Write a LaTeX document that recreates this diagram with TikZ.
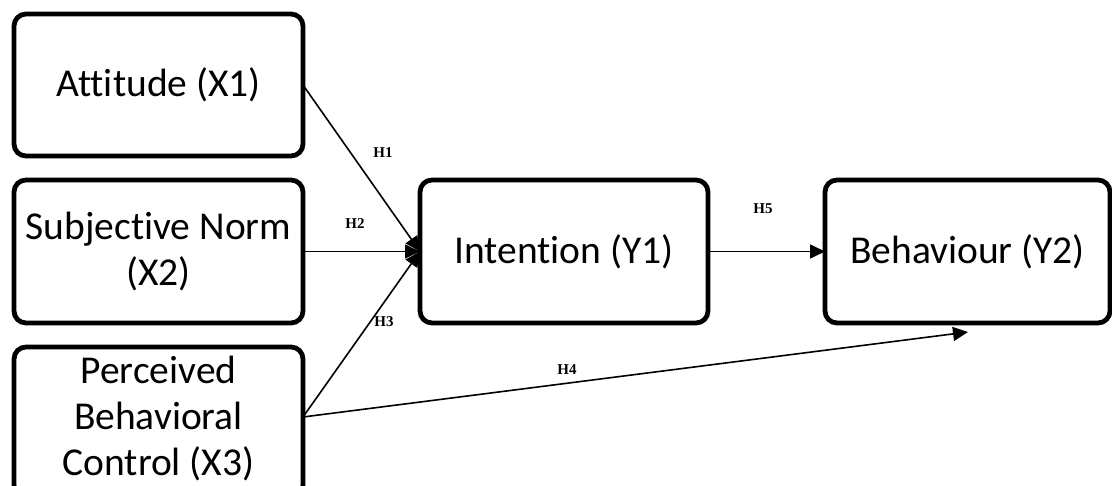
\documentclass[tikz,border=0pt]{standalone}
\usepackage{fontspec}
\setmainfont[Ligatures={NoCommon}]{Carlito}
\newfontfamily\labfont{Liberation Serif}
\usetikzlibrary{arrows.meta}
\begin{document}
\begin{tikzpicture}[x=1pt,y=-1pt,
  varbox/.style={draw, line width=4.8pt, rounded corners=12pt, align=center,
    font=\fontsize{39.5}{46.5}\selectfont, inner sep=0pt, outer sep=0pt},
  vartext/.style={align=center, font=\fontsize{39.5}{46}\selectfont, inner sep=0pt},
  conn/.style={line width=1.6pt, -{Triangle[length=15pt,width=14pt]}},
  hlab/.style={font=\labfont\bfseries\fontsize{15}{17}\selectfont, inner sep=0pt}]
\useasboundingbox (0,0) rectangle (1112,486);
\node[varbox, minimum width=289pt, minimum height=142pt] (att) at (158.5,85) {Attitude (X1)};
\node[varbox, minimum width=289pt, minimum height=143pt] (sn) at (158.5,251.5) {Subjective Norm\\(X2)};
\node[varbox, minimum width=289pt, minimum height=150pt] (pbc) at (158.5,422) {};
\node[vartext] (pbct) at ([yshift=3pt]pbc.center) {Perceived\\Behavioral\\Control (X3)};
\node[varbox, minimum width=288pt, minimum height=143pt] (int) at (564,251.5) {Intention (Y1)};
\node[varbox, minimum width=285pt, minimum height=143pt] (beh) at (967.5,251.5) {Behaviour (Y2)};
\coordinate (h4end) at (968,332);
\draw[conn] (att.east) -- (int.west);
\draw[conn] (sn.east) -- (int.west);
\draw[conn] ([yshift=5pt]pbc.east) -- (int.west);
\draw[conn] ([yshift=5pt]pbc.east) -- (h4end);
\draw[conn] (int.east) -- (beh.west);
\node[hlab] (h1) at (383,153) {H1};
\node[hlab] (h2) at (355,224) {H2};
\node[hlab] (h3) at (384,322) {H3};
\node[hlab] (h4) at (567,370) {H4};
\node[hlab] (h5) at (763,209) {H5};
\end{tikzpicture}
\end{document}
